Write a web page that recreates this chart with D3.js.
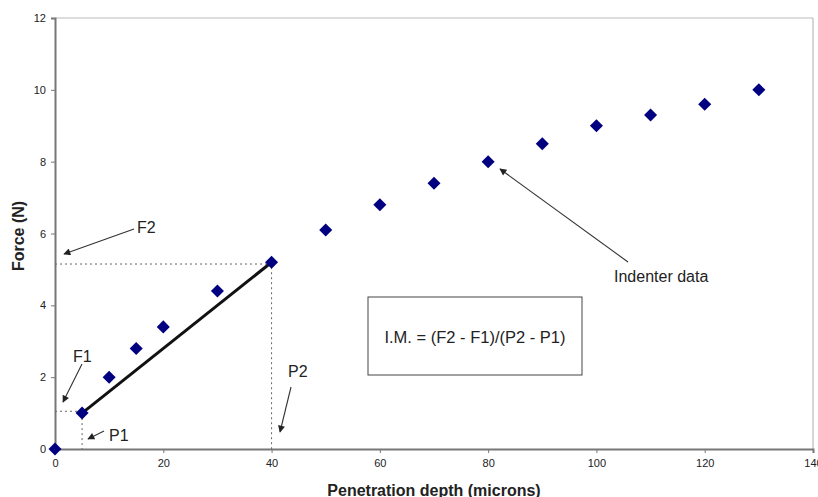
<!DOCTYPE html>
<html><head><meta charset="utf-8">
<script src="https://cdn.jsdelivr.net/npm/d3@7"></script>
<style>body{margin:0;background:#fff}text{font-family:"Liberation Sans",Arial,sans-serif}</style>
</head><body><svg id="c" width="818" height="497"></svg>
<script>
const depth = [0,5,10,15,20,30,40,50,60,70,80,90,100,110,120,130];
const force = [0,1,2,2.8,3.4,4.4,5.2,6.1,6.8,7.4,8,8.5,9,9.3,9.6,10];
const xTicks = [0,20,40,60,80,100,120,140];
const yTicks = [0,2,4,6,8,10,12];
const fitLine = [[5,1],[40,5.2]];
const guideF1 = 1.05, guideF2 = 5.15, guideP1 = 5, guideP2 = 40;
const formula = "I.M. = (F2 - F1)/(P2 - P1)";

const svg = d3.select("#c");
const x = d3.scaleLinear().domain([0,140]).range([55,813]);
const y = d3.scaleLinear().domain([0,12]).range([449,18]);

svg.append("defs").append("marker").attr("id","ah").attr("viewBox","0 0 10 10")
  .attr("refX",9).attr("refY",5).attr("markerWidth",9).attr("markerHeight",7).attr("orient","auto")
  .attr("markerUnits","userSpaceOnUse")
  .append("path").attr("d","M0,0L10,5L0,10z").attr("fill","#222");

svg.append("line").attr("x1",x(0)).attr("x2",x(140)).attr("y1",y(12)).attr("y2",y(12)).attr("stroke","#bbb").attr("stroke-width",1.2);
svg.append("line").attr("x1",x(140)).attr("x2",x(140)).attr("y1",y(12)).attr("y2",y(0)).attr("stroke","#bbb").attr("stroke-width",1.2);

const xa = svg.append("g").attr("transform",`translate(0,${y(0)})`)
  .call(d3.axisBottom(x).tickValues(xTicks).tickSize(4).tickPadding(6));
const ya = svg.append("g").attr("transform",`translate(${x(0)},0)`)
  .call(d3.axisLeft(y).tickValues(yTicks).tickSize(4).tickPadding(5));
[xa,ya].forEach(a=>{
  a.select(".domain").attr("stroke","#777").attr("stroke-width",2);
  a.selectAll(".tick line").attr("stroke","#777");
  a.selectAll(".tick text").attr("font-size",11).attr("fill","#222").style("font-family","Liberation Sans, Arial, sans-serif");
});

const dash = {"stroke":"#666","stroke-width":1,"stroke-dasharray":"2,3"};
function dl(x1,y1,x2,y2){const l=svg.append("line").attr("x1",x1).attr("y1",y1).attr("x2",x2).attr("y2",y2);for(const k in dash)l.attr(k,dash[k]);}
dl(x(0),y(guideF2),x(guideP2),y(guideF2));
dl(x(guideP2),y(5.2),x(guideP2),y(0));
dl(x(0),y(guideF1),x(guideP1),y(guideF1));
dl(x(guideP1),y(1),x(guideP1),y(0));

svg.append("line").attr("x1",x(fitLine[0][0])).attr("y1",y(fitLine[0][1]))
  .attr("x2",x(fitLine[1][0])).attr("y2",y(fitLine[1][1])).attr("stroke","#111").attr("stroke-width",3);

svg.selectAll(".pt").data(depth).enter().append("path")
  .attr("d",d3.symbol(d3.symbolSquare, 85)())
  .attr("transform",(d,i)=>`translate(${x(d)},${y(force[i])})rotate(45)`)
  .attr("fill","#000080");

function arrow(x1,y1,x2,y2){svg.append("line").attr("x1",x1).attr("y1",y1).attr("x2",x2).attr("y2",y2)
  .attr("stroke","#333").attr("stroke-width",1.1).attr("marker-end","url(#ah)");}
function label(t,px,py,anchor){svg.append("text").attr("x",px).attr("y",py).attr("font-size",16).attr("fill","#222")
  .attr("text-anchor",anchor||"start").text(t);}
label("F2",137,233); arrow(134,229,64,254);
label("F1",73,362); arrow(82,364,63,402);
label("P1",109,441); arrow(104,431,88,439);
label("P2",288,377); arrow(291,387,280,432);
label("Indenter data",614,282); arrow(628,262,500,169);

svg.append("rect").attr("x",368).attr("y",297).attr("width",214).attr("height",78).attr("fill","#fff").attr("stroke","#444").attr("stroke-width",1);
svg.append("text").attr("x",475).attr("y",343).attr("text-anchor","middle").attr("font-size",16.5).attr("fill","#222").text(formula);

svg.append("text").attr("x",434).attr("y",496).attr("text-anchor","middle").attr("font-size",16).attr("font-weight","bold").attr("fill","#222").text("Penetration depth (microns)");
svg.append("text").attr("transform","translate(24,236)rotate(-90)").attr("text-anchor","middle").attr("font-size",16).attr("font-weight","bold").attr("fill","#222").text("Force (N)");
</script></body></html>
